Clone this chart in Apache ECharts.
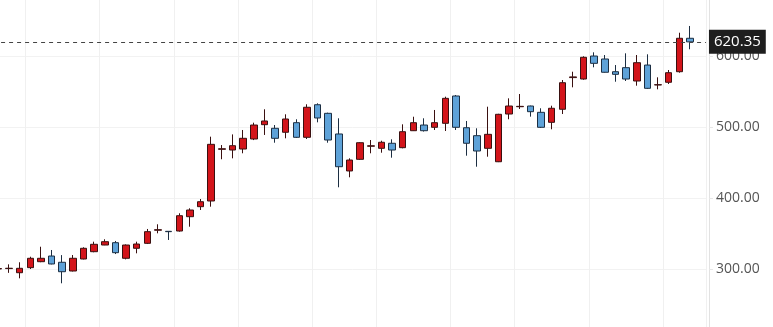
<!DOCTYPE html>
<html>
<head>
<meta charset="utf-8">
<script src="https://cdn.jsdelivr.net/npm/echarts@6/dist/echarts.min.js"></script>
<style>html,body{margin:0;padding:0;background:#fff}#c{width:773px;height:327px}</style>
</head>
<body>
<div id="c"></div>
<script>
var categories = ['1','2','3','4','5','6','7','8','9','10','11','12','13','14','15','16','17','18','19','20',
  '21','22','23','24','25','26','27','28','29','30','31','32','33','34','35','36','37','38','39','40',
  '41','42','43','44','45','46','47','48','49','50','51','52','53','54','55','56','57','58','59','60',
  '61','62','63','64','65','66',''];
var opens  = [300.5,301,295.2,302.3,310.7,318.7,309.9,297.6,314.5,324.8,334.2,337.5,315.5,329.6,336.6,355,353.5,353.9,374.1,388.2,
  396.2,469,468,469.4,483.5,503.7,498.6,493,506.5,485.9,531.8,519.7,490.6,438.5,454.9,473.3,470.4,477.5,471.3,495.2,
  503.2,500,505.6,544.1,499.4,488.2,470.4,451.5,518.7,529,530,521.1,507,525.4,570,568,600.4,596.2,578.3,584,
  565.2,587.7,559.6,563.4,578.3,625.4];
var closes = [301,301.5,301.4,315.5,315.5,307.5,296.6,315.5,329.6,335.2,338.9,323.4,334.2,335.6,353,355.8,353,375.5,383.5,395.2,
  476,469.8,474.1,484.5,503.2,508.9,484.5,511.7,485.9,528.2,513.1,482.1,444.5,453.9,478.3,474,478.9,468,493.8,506.5,
  495.2,506.5,540.8,500,477.5,466.6,490.1,518.3,530,529.5,522,500,526.8,562.8,571,598.6,590.1,577.5,574.6,568,
  591,554.9,560,576.9,625.4,620.35];
var lows   = [299,295,287.3,300.4,310,307,280.3,297,314,324,334,321.5,314,322.5,335.6,350.7,341.3,353,360,383.5,
  388.2,455,456.3,463.4,482,489.2,478.3,484.5,485,483.5,507,478.3,415.5,429.6,454,463.4,464.2,457.2,470.4,494.8,
  494,496.2,494.8,496.2,460,444.5,458.6,451,511.3,525.8,515,499,497.2,518.7,556.3,567,584.5,577,564.2,565.2,
  558.6,554,553.5,561,576.9,609.9];
var highs  = [303,307,309.9,317.7,331.8,327.2,320,320.1,331,338.9,342.3,339.9,335,338.9,356.8,363.4,353.8,378.9,385.9,399,
  486.8,475,490,496.2,506.5,525.4,503.2,518.3,511.3,532.4,533.8,520.6,512.7,456.3,479,482.1,481.1,483.1,504.2,514.9,
  512.7,524.4,543.1,545.5,508.9,498.6,529,519,540.8,546.9,530.5,526.8,530.4,566.6,578.3,600,605.6,601.8,587.7,604.2,
  601.8,602.8,570.4,580.7,633.2,642.7];
var lastPrice = 620.35;
var yTicks = [200, 700, 100];
var vLineIdx = [3, 10, 17, 23, 30, 36, 43, 49, 56, 63];

var candleData = opens.map(function (o, i) { return [o, closes[i], lows[i], highs[i]]; });

var chart = echarts.init(document.getElementById('c'), null, {renderer: 'canvas'});
chart.setOption({
  animation: false,
  backgroundColor: '#ffffff',
  grid: {left: -6.92, right: 67.04, top: -14.7, bottom: -13.3, containLabel: false, outerBoundsMode: 'none'},
  xAxis: {
    type: 'category',
    data: categories,
    boundaryGap: true,
    axisLine: {show: false},
    axisTick: {show: false},
    axisLabel: {show: false},
    splitLine: {
      show: true,
      interval: function (idx) { return vLineIdx.indexOf(idx) >= 0; },
      lineStyle: {color: '#f0f0f0', width: 1}
    }
  },
  yAxis: {
    type: 'value',
    position: 'right',
    offset: 3,
    min: yTicks[0], max: yTicks[1], interval: yTicks[2],
    axisLine: {show: true, lineStyle: {color: '#e2e2e2'}},
    axisTick: {show: true, length: 4, lineStyle: {color: '#e6e6e6'}},
    axisLabel: {
      margin: 7,
      color: '#555555',
      fontSize: 14,
      fontFamily: 'Open Sans',
      formatter: function (v) { return v.toFixed(2); }
    },
    splitLine: {show: true, lineStyle: {color: '#f2f2f2'}}
  },
  series: [{
    type: 'candlestick',
    data: candleData,
    barWidth: 7,
    itemStyle: {
      color: '#d3141a',
      color0: '#5ea2d8',
      borderColor: '#3a1010',
      borderColor0: '#1c2e42',
      borderWidth: 1
    },
    markLine: {
      silent: true,
      symbol: ['none', 'none'],
      data: [{yAxis: lastPrice}],
      lineStyle: {type: [4, 4], color: '#444444', width: 1},
      label: {
        show: true,
        position: 'end',
        distance: 3,
        formatter: function () { return lastPrice.toFixed(2); },
        backgroundColor: '#1e1e1e',
        color: '#ffffff',
        fontSize: 15,
        fontFamily: 'Open Sans',
        padding: [3, 5],
        lineHeight: 18
      }
    }
  }]
});
</script>
</body>
</html>
